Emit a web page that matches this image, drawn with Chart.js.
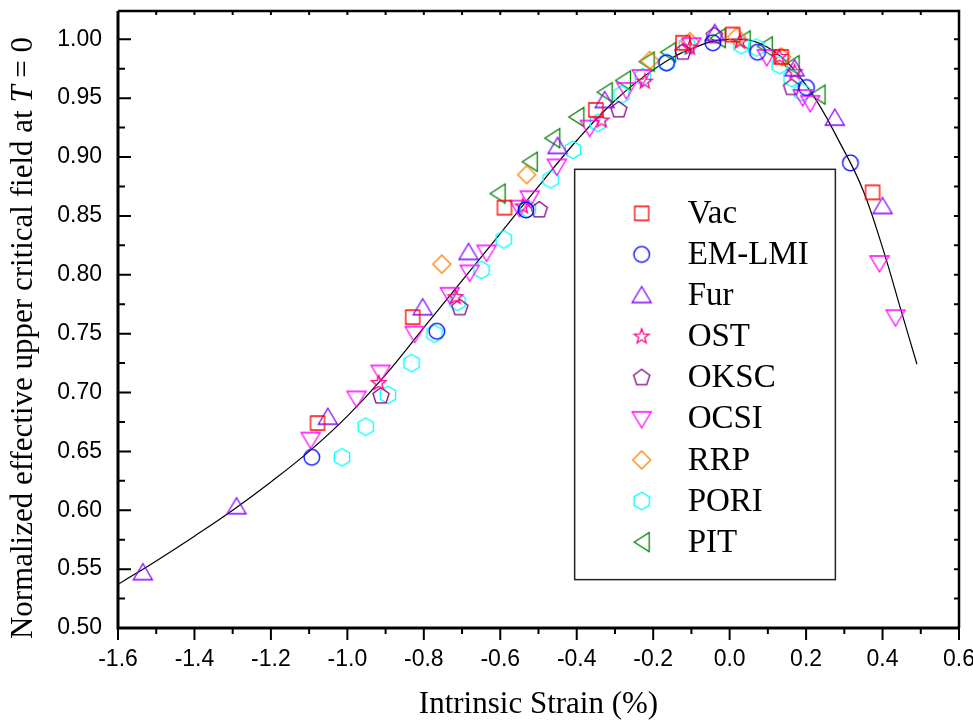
<!DOCTYPE html>
<html>
<head>
<meta charset="utf-8">
<script src="https://cdn.jsdelivr.net/npm/chart.js@4.4.1/dist/chart.umd.min.js"></script>
<style>
  html, body { margin: 0; padding: 0; background: #fff; }
</style>
</head>
<body>
<canvas id="chart" width="973" height="722"></canvas>
<script>
// data
const vacX = [-1.078, -0.829, -0.589, -0.350, -0.122, 0.008, 0.135, 0.374];
const vacY = [0.674, 0.764, 0.857, 0.940, 0.997, 1.004, 0.985, 0.870];

const emX = [-1.093, -0.766, -0.533, -0.165, -0.044, 0.073, 0.201, 0.316];
const emY = [0.645, 0.752, 0.855, 0.980, 0.997, 0.989, 0.959, 0.895];

const furX = [-1.535, -1.290, -1.051, -0.803, -0.683, -0.450, -0.327, -0.039, 0.170, 0.275, 0.400];
const furY = [0.547, 0.603, 0.679, 0.772, 0.819, 0.909, 0.948, 1.005, 0.975, 0.933, 0.858];

const ostX = [-0.918, -0.717, -0.541, -0.335, -0.222, -0.104, 0.027, 0.130, 0.170];
const ostY = [0.708, 0.781, 0.858, 0.931, 0.964, 0.993, 0.998, 0.985, 0.972];

const okscX = [-0.912, -0.706, -0.498, -0.290, -0.122, -0.040, 0.162];
const okscY = [0.697, 0.772, 0.855, 0.940, 0.989, 1.003, 0.959];

const ocsiX = [-1.096, -0.976, -0.913, -0.824, -0.732, -0.680, -0.636, -0.550, -0.523, -0.452, -0.366, -0.270, -0.230, -0.100, 0.097, 0.191, 0.211, 0.392, 0.434];
const ocsiY = [0.660, 0.695, 0.717, 0.750, 0.783, 0.802, 0.819, 0.857, 0.865, 0.892, 0.925, 0.957, 0.968, 0.995, 0.985, 0.951, 0.946, 0.810, 0.764];

const rrpX = [-0.753, -0.531, -0.209, -0.104, 0.018, 0.136];
const rrpY = [0.809, 0.885, 0.982, 0.998, 1.002, 0.985];

const poriX = [-1.014, -0.952, -0.894, -0.832, -0.772, -0.712, -0.649, -0.591, -0.528, -0.468, -0.410, -0.345, -0.283, -0.227, -0.165, -0.112, 0.031, 0.070, 0.131, 0.162, 0.189];
const poriY = [0.645, 0.671, 0.698, 0.725, 0.750, 0.777, 0.804, 0.830, 0.856, 0.881, 0.906, 0.929, 0.953, 0.968, 0.980, 0.995, 0.995, 0.993, 0.978, 0.967, 0.955];

const pitX = [-0.607, -0.523, -0.464, -0.401, -0.327, -0.279, -0.217, -0.161, -0.031, 0.034, 0.092, 0.162, 0.230];
const pitY = [0.869, 0.896, 0.916, 0.934, 0.955, 0.965, 0.981, 0.989, 1.001, 0.999, 0.994, 0.978, 0.953];

// fitted curve
const fitX = [-1.6, -1.5, -1.4, -1.3, -1.2, -1.1, -1.0, -0.9, -0.8, -0.7, -0.6, -0.5, -0.4, -0.3, -0.2, -0.1, 0.0, 0.1, 0.2, 0.3, 0.35, 0.4, 0.45, 0.49];
const fitY = [0.537, 0.557, 0.578, 0.600, 0.624, 0.650, 0.680, 0.715, 0.755, 0.795, 0.835, 0.875, 0.914, 0.948, 0.974, 0.992, 1.000, 0.993, 0.961, 0.905, 0.871, 0.823, 0.768, 0.724];

const xTicks = [-1.6, -1.4, -1.2, -1.0, -0.8, -0.6, -0.4, -0.2, 0.0, 0.2, 0.4, 0.6];
const yTicks = [0.50, 0.55, 0.60, 0.65, 0.70, 0.75, 0.80, 0.85, 0.90, 0.95, 1.00];

const seriesNames = ["Vac", "EM-LMI", "Fur", "OST", "OKSC", "OCSI", "RRP", "PORI", "PIT"];
const seriesColors = ["#ff0000", "#0000ff", "#8000ff", "#ff0080", "#800080", "#ff00ff", "#ff8000", "#00ffff", "#008000"];
const seriesShapes = ["square", "circle", "triUp", "star", "pentagon", "triDown", "diamond", "hexagon", "triLeft"];
const seriesX = [vacX, emX, furX, ostX, okscX, ocsiX, rrpX, poriX, pitX];
const seriesY = [vacY, emY, furY, ostY, okscY, ocsiY, rrpY, poriY, pitY];

function polyPath(ctx, n, r, start) {
  for (let i = 0; i < n; i++) {
    const a = start + i * 2 * Math.PI / n;
    const px = r * Math.cos(a), py = r * Math.sin(a);
    if (i === 0) ctx.moveTo(px, py); else ctx.lineTo(px, py);
  }
}

function makeMarker(shape, color) {
  const c = document.createElement("canvas");
  c.width = 24; c.height = 24;
  const ctx = c.getContext("2d");
  ctx.translate(12, 12);
  ctx.strokeStyle = color;
  ctx.lineWidth = 1.3;
  ctx.beginPath();
  switch (shape) {
    case "square": ctx.rect(-7, -7, 14, 14); break;
    case "circle": ctx.arc(0, 0, 7.8, 0, 2 * Math.PI); break;
    case "triUp": ctx.moveTo(0, -9); ctx.lineTo(9.5, 7); ctx.lineTo(-9.5, 7); break;
    case "triDown": ctx.moveTo(0, 9); ctx.lineTo(9.5, -7); ctx.lineTo(-9.5, -7); break;
    case "triLeft": ctx.moveTo(-7.5, 0); ctx.lineTo(7.5, -9.5); ctx.lineTo(7.5, 9.5); break;
    case "diamond": polyPath(ctx, 4, 9, -Math.PI / 2); break;
    case "pentagon": polyPath(ctx, 5, 8.5, -Math.PI / 2); break;
    case "hexagon": polyPath(ctx, 6, 8.8, -Math.PI / 2); break;
    case "star":
      for (let i = 0; i < 10; i++) {
        const a = -Math.PI / 2 + i * Math.PI / 5;
        const r = i % 2 === 0 ? 7.8 : 3.2;
        if (i === 0) ctx.moveTo(r * Math.cos(a), r * Math.sin(a));
        else ctx.lineTo(r * Math.cos(a), r * Math.sin(a));
      }
      break;
  }
  ctx.closePath();
  ctx.stroke();
  return c;
}

const markers = seriesShapes.map((s, i) => makeMarker(s, seriesColors[i]));

const datasets = seriesNames.map((name, i) => ({
  label: name,
  data: seriesX[i].map((x, j) => ({ x: x, y: seriesY[i][j] })),
  pointStyle: markers[i],
  pointRadius: 9,
  showLine: false
}));

datasets.push({
  label: "fit",
  type: "line",
  data: fitX.map((x, j) => ({ x: x, y: fitY[j] })),
  borderColor: "#000",
  borderWidth: 1.2,
  pointRadius: 0,
  fill: false,
  tension: 0.4
});

const serif = "'Liberation Serif', 'Times New Roman', serif";
const sans = "'Liberation Sans', Arial, sans-serif";

// frame, inward/outward ticks, axis titles and the boxed legend
const framePlugin = {
  id: "frame",
  afterDraw(chart) {
    const ctx = chart.ctx;
    const a = chart.chartArea;
    const xs = chart.scales.x, ys = chart.scales.y;
    ctx.save();
    ctx.strokeStyle = "#000";

    ctx.lineWidth = 2;
    for (let k = 0; k <= 22; k++) {
      const px = xs.getPixelForValue(-1.6 + k * 0.1);
      const major = k % 2 === 0;
      ctx.beginPath();
      ctx.moveTo(px, a.bottom);
      ctx.lineTo(px, a.bottom + (major ? 12 : 6));
      ctx.moveTo(px, a.top);
      ctx.lineTo(px, a.top + 4);
      ctx.stroke();
    }
    for (let k = 0; k <= 20; k++) {
      const py = ys.getPixelForValue(0.5 + k * 0.025);
      const major = k % 2 === 0;
      ctx.beginPath();
      ctx.moveTo(a.left, py);
      ctx.lineTo(a.left + (major ? 13 : 7), py);
      ctx.moveTo(a.right, py);
      ctx.lineTo(a.right - 5, py);
      ctx.stroke();
    }

    ctx.lineWidth = 3;
    ctx.beginPath();
    ctx.moveTo(a.left, a.top);
    ctx.lineTo(a.left, a.bottom);
    ctx.lineTo(a.right, a.bottom);
    ctx.stroke();
    ctx.lineWidth = 2.5;
    ctx.beginPath();
    ctx.moveTo(a.left, a.top);
    ctx.lineTo(a.right, a.top);
    ctx.lineTo(a.right, a.bottom);
    ctx.stroke();

    // x title
    ctx.fillStyle = "#000";
    ctx.font = "31px " + serif;
    ctx.textAlign = "center";
    ctx.textBaseline = "middle";
    ctx.fillText("Intrinsic Strain (%)", (a.left + a.right) / 2, 705);

    // y title with italic T
    const parts = [
      ["Normalized effective upper critical field at ", "31px " + serif],
      ["T", "italic 31px " + serif],
      [" = 0", "31px " + serif]
    ];
    let total = 0;
    parts.forEach(p => { ctx.font = p[1]; total += ctx.measureText(p[0]).width; });
    ctx.translate(24, 338);
    ctx.rotate(-Math.PI / 2);
    ctx.textAlign = "left";
    let cx = -total / 2;
    parts.forEach(p => {
      ctx.font = p[1];
      ctx.fillText(p[0], cx, 0);
      cx += ctx.measureText(p[0]).width;
    });
    ctx.setTransform(1, 0, 0, 1, 0, 0);

    // legend box
    const w = a.right - a.left, h = a.bottom - a.top;
    const bx = a.left + 0.543 * w, by = a.top + 0.2566 * h;
    const bw = 0.310 * w, bh = 0.665 * h;
    ctx.fillStyle = "#fff";
    ctx.fillRect(bx, by, bw, bh);
    ctx.lineWidth = 1.5;
    ctx.strokeStyle = "#222";
    ctx.strokeRect(bx, by, bw, bh);
    ctx.fillStyle = "#000";
    ctx.font = "33px " + serif;
    ctx.textAlign = "left";
    ctx.textBaseline = "middle";
    seriesNames.forEach((name, i) => {
      const ry = by + 44 + i * 41.1;
      const m = markers[i];
      ctx.drawImage(m, bx + 67 - m.width / 2, ry - m.height / 2);
      ctx.fillText(name, bx + 113, ry + 1);
    });
    ctx.restore();
  }
};

new Chart(document.getElementById("chart"), {
  type: "scatter",
  data: { datasets: datasets },
  options: {
    responsive: false,
    animation: false,
    layout: { padding: { top: 11, right: 14, left: 0, bottom: 0 } },
    plugins: {
      legend: { display: false },
      tooltip: { enabled: false }
    },
    scales: {
      x: {
        type: "linear",
        min: -1.6,
        max: 0.6,
        afterFit: s => { s.height = 94; s.paddingLeft = 0; s.paddingRight = 0; },
        grid: { display: false, drawTicks: false },
        border: { display: false },
        ticks: {
          stepSize: 0.2,
          includeBounds: false,
          padding: 18,
          color: "#000",
          font: { family: sans, size: 23 },
          callback: v => (Math.abs(v) < 1e-9 ? "0.0" : v.toFixed(1))
        }
      },
      y: {
        type: "linear",
        min: 0.5,
        max: 1.024,
        afterFit: s => { s.width = 118; s.paddingTop = 0; s.paddingBottom = 0; },
        grid: { display: false, drawTicks: false },
        border: { display: false },
        ticks: {
          stepSize: 0.05,
          includeBounds: false,
          padding: 16,
          color: "#000",
          font: { family: sans, size: 23 },
          callback: v => v.toFixed(2)
        }
      }
    }
  },
  plugins: [framePlugin]
});
</script>
</body>
</html>
